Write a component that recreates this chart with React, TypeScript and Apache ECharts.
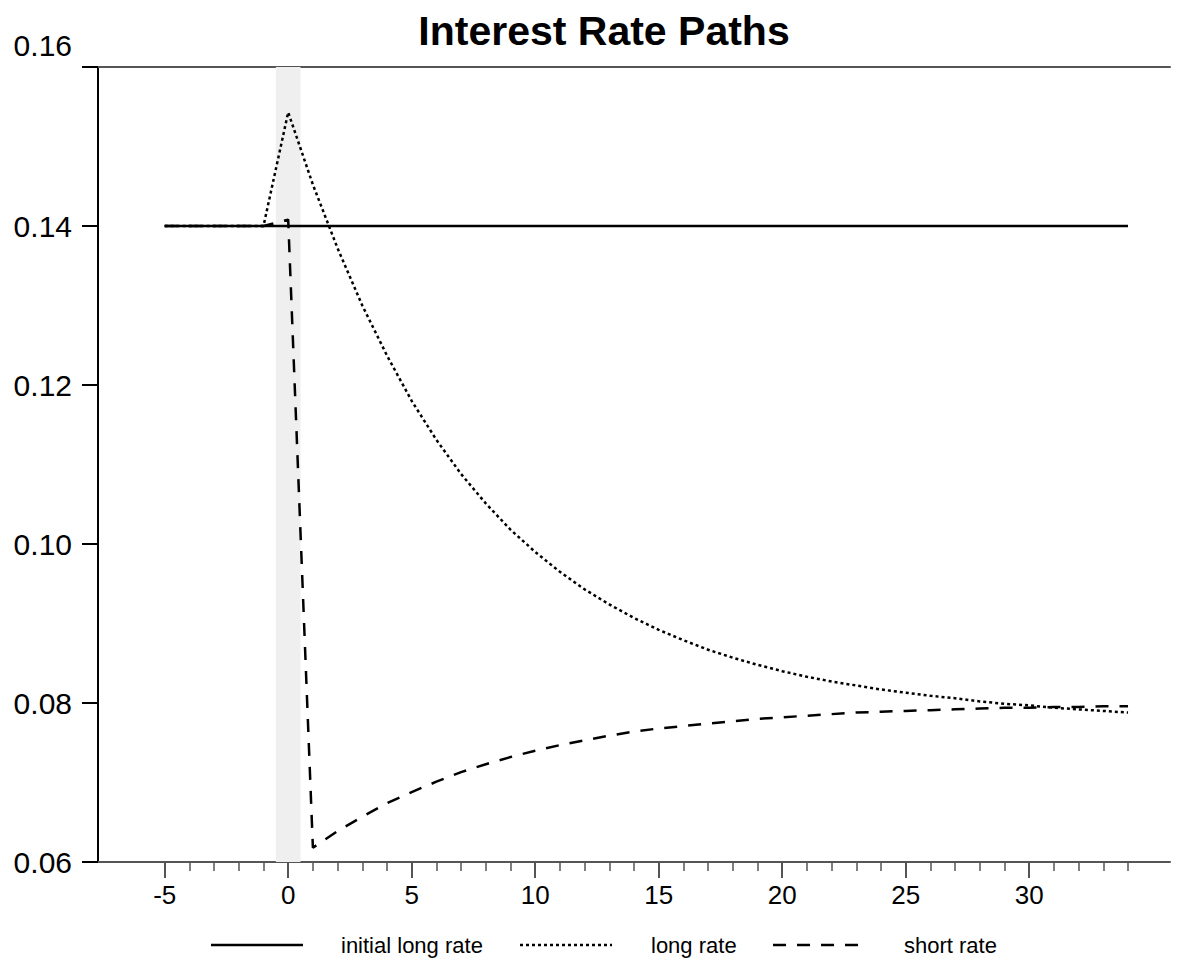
import React, { useEffect, useRef } from "react";
import * as echarts from "echarts";

// Periods relative to the shock (period 0)
const periods = [
  -5, -4, -3, -2, -1, 0, 1, 2, 3, 4, 5, 6, 7, 8, 9, 10, 11, 12, 13, 14, 15, 16, 17, 18, 19,
  20, 21, 22, 23, 24, 25, 26, 27, 28, 29, 30, 31, 32, 33, 34,
];

const initialLongRate = [
  0.14, 0.14, 0.14, 0.14, 0.14, 0.14, 0.14, 0.14, 0.14, 0.14, 0.14, 0.14, 0.14, 0.14, 0.14,
  0.14, 0.14, 0.14, 0.14, 0.14, 0.14, 0.14, 0.14, 0.14, 0.14, 0.14, 0.14, 0.14, 0.14, 0.14,
  0.14, 0.14, 0.14, 0.14, 0.14, 0.14, 0.14, 0.14, 0.14, 0.14,
];

const longRate = [
  0.14, 0.14, 0.14, 0.14, 0.14, 0.1543, 0.1452, 0.1372, 0.13, 0.1237, 0.118, 0.1131, 0.1088,
  0.1051, 0.1018, 0.099, 0.0965, 0.0943, 0.0924, 0.0907, 0.0892, 0.0879, 0.0867, 0.0857,
  0.0848, 0.084, 0.0833, 0.0827, 0.0822, 0.0817, 0.0813, 0.0809, 0.0806, 0.0802, 0.0799,
  0.0797, 0.0794, 0.0792, 0.079, 0.0788,
];

const shortRate = [
  0.14, 0.14, 0.14, 0.14, 0.14, 0.1408, 0.0618, 0.0639, 0.0657, 0.0674, 0.0688, 0.0701,
  0.0713, 0.0723, 0.0732, 0.074, 0.0747, 0.0753, 0.0759, 0.0764, 0.0768, 0.0771, 0.0774,
  0.0777, 0.078, 0.0782, 0.0784, 0.0786, 0.0788, 0.0789, 0.079, 0.0791, 0.0792, 0.0793,
  0.0794, 0.0794, 0.0795, 0.0795, 0.0796, 0.0796,
];

// Axis ticks
const xMajorTicks = [-5, 0, 5, 10, 15, 20, 25, 30];
const xMinorTicks = periods;
const yTicks = [0.06, 0.08, 0.1, 0.12, 0.14, 0.16];
const shockWindow = [-0.5, 0.5];
const yMin = 0.06;
const yMax = 0.16;

const seriesNames = ["initial long rate", "long rate", "short rate"];

const FONT = "'Liberation Sans', Arial, sans-serif";

export default function App() {
  const ref = useRef<HTMLDivElement>(null);

  useEffect(() => {
    document.body.style.margin = "0";
    const chart = echarts.init(ref.current!, null, { renderer: "svg" });

    const pairs = (vals: number[]) => periods.map((p, i) => [p, vals[i]]);
    const xMin = -7.7;
    const xMax = 35.7;
    const gridLeft = 98;
    const gridRight = 18;
    const yTickLength = 16;
    // tick length expressed in x-axis units (1188px page, grid spans xMin..xMax)
    const tickUnits = (yTickLength * (xMax - xMin)) / (1188 - gridLeft - gridRight);

    // outward ticks on the value axis as separate two-point segments
    const yTickSegments: any[] = [];
    yTicks.forEach((v) => {
      yTickSegments.push([xMin - tickUnits, v], [xMin, v], "-");
    });

    const legendY = 945;
    const legendLine = (x1: number, x2: number, dash: number[] | null) => ({
      type: "line",
      shape: { x1, y1: legendY, x2, y2: legendY },
      style: { stroke: "#000", lineWidth: 2.5, lineDash: dash || undefined },
    });
    const legendText = (x: number, text: string) => ({
      type: "text",
      x,
      y: legendY,
      style: {
        text,
        fill: "#000",
        font: `22px ${FONT}`,
        textAlign: "left",
        textVerticalAlign: "middle",
      },
    });

    chart.setOption({
      animation: false,
      backgroundColor: "#fff",
      grid: { left: gridLeft, right: gridRight, top: 67, bottom: 105 },
      xAxis: [
        {
          type: "value",
          min: xMin,
          max: xMax,
          position: "bottom",
          axisLine: { show: true, onZero: false, lineStyle: { color: "#555", width: 2 } },
          axisTick: {
            show: true,
            length: 16,
            customValues: xMajorTicks,
            lineStyle: { color: "#555", width: 2 },
          },
          axisLabel: {
            show: true,
            customValues: xMajorTicks,
            margin: 20,
            fontSize: 26,
            fontFamily: FONT,
            color: "#000",
          },
          splitLine: { show: false },
        },
        {
          type: "value",
          min: xMin,
          max: xMax,
          position: "bottom",
          axisLine: { show: false, onZero: false },
          axisTick: {
            show: true,
            length: 9,
            customValues: xMinorTicks,
            lineStyle: { color: "#555", width: 1.5 },
          },
          axisLabel: { show: false },
          splitLine: { show: false },
        },
        {
          type: "value",
          min: xMin,
          max: xMax,
          position: "top",
          axisLine: { show: true, onZero: false, lineStyle: { color: "#555", width: 2 } },
          axisTick: { show: false },
          axisLabel: { show: false },
          splitLine: { show: false },
        },
      ],
      yAxis: {
        type: "value",
        min: yMin,
        max: yMax,
        position: "left",
        axisLine: { show: true, onZero: false, lineStyle: { color: "#000", width: 2 } },
        axisTick: {
          show: true,
          length: yTickLength,
          customValues: yTicks,
          lineStyle: { color: "#000", width: 2 },
        },
        axisLabel: {
          margin: 26,
          fontSize: 30,
          fontFamily: FONT,
          color: "#000",
          customValues: yTicks,
          // the top label sits above the frame line
          formatter: (v: number) =>
            Math.abs(v - yMax) < 1e-9 ? `{top|${v.toFixed(2)}}` : v.toFixed(2),
          rich: {
            top: { fontSize: 30, fontFamily: FONT, color: "#000", padding: [0, 0, 44, 0] },
          },
        },
        splitLine: { show: false },
      },
      series: [
        {
          type: "line",
          name: "shock",
          data: [],
          z: 1,
          silent: true,
          markArea: {
            silent: true,
            itemStyle: { color: "#efefef" },
            data: [[{ xAxis: shockWindow[0] }, { xAxis: shockWindow[1] }]],
          },
        },
        {
          type: "line",
          name: "yTicks",
          data: yTickSegments,
          clip: false,
          silent: true,
          showSymbol: false,
          symbol: "none",
          connectNulls: false,
          z: 6,
          lineStyle: { color: "#000", width: 2, type: "solid" },
        },
        {
          type: "line",
          name: seriesNames[0],
          data: pairs(initialLongRate),
          showSymbol: false,
          symbol: "none",
          z: 3,
          lineStyle: { color: "#000", width: 2.5, type: "solid" },
        },
        {
          type: "line",
          name: seriesNames[1],
          data: pairs(longRate),
          showSymbol: false,
          symbol: "none",
          z: 4,
          lineStyle: { color: "#000", width: 2.5, type: [3, 3] },
        },
        {
          type: "line",
          name: seriesNames[2],
          data: pairs(shortRate),
          showSymbol: false,
          symbol: "none",
          z: 5,
          lineStyle: { color: "#000", width: 2.5, type: [13, 11] },
        },
      ],
      graphic: [
        {
          type: "text",
          x: 604,
          y: 31,
          style: {
            text: "Interest Rate Paths",
            fill: "#000",
            font: `bold 41px ${FONT}`,
            textAlign: "center",
            textVerticalAlign: "middle",
          },
        },
        legendLine(211, 303, null),
        legendText(341, seriesNames[0]),
        legendLine(520, 612, [3, 3]),
        legendText(651, seriesNames[1]),
        legendLine(773, 866, [13, 11]),
        legendText(904, seriesNames[2]),
      ],
    });

    return () => chart.dispose();
  }, []);

  return <div ref={ref} style={{ width: 1188, height: 967 }} />;
}
